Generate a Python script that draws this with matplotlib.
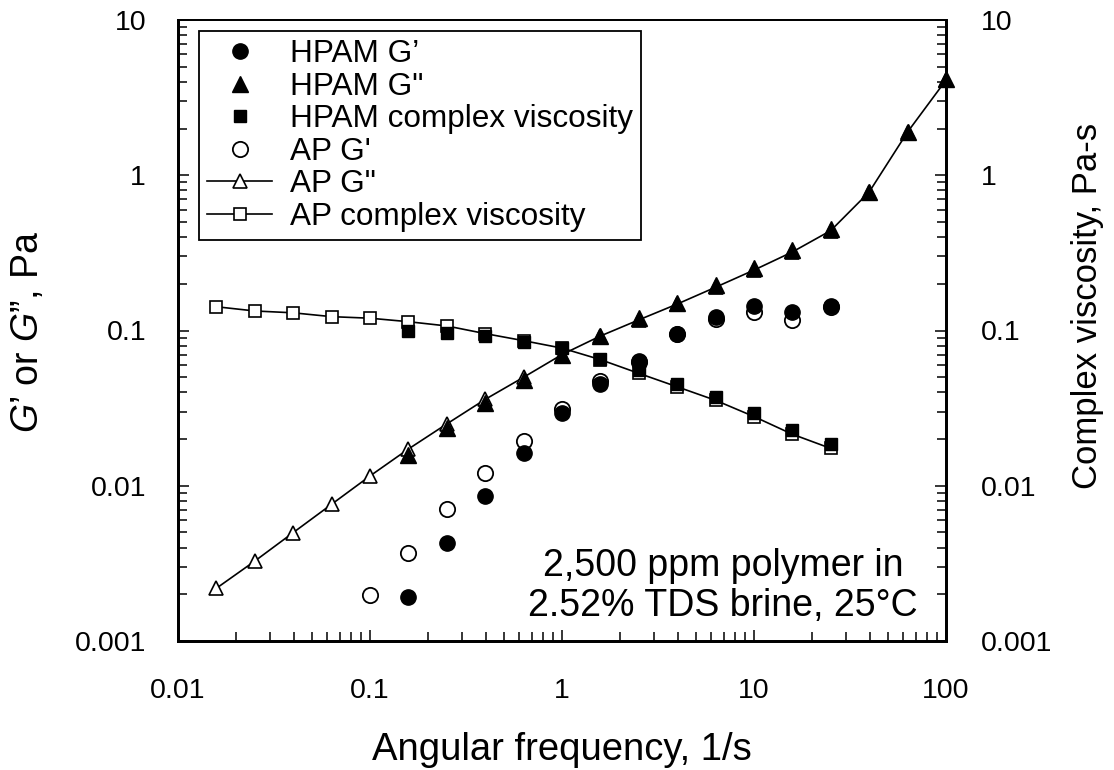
import matplotlib
matplotlib.use("Agg")
import matplotlib.pyplot as plt
from matplotlib.ticker import LogLocator, NullFormatter, FixedLocator, FixedFormatter

plt.rcParams['font.family'] = ['Liberation Sans', 'DejaVu Sans']
plt.rcParams['mathtext.fontset'] = 'custom'
plt.rcParams['mathtext.rm'] = 'Liberation Sans'
plt.rcParams['mathtext.it'] = 'Liberation Sans:italic'

# ---- data ----
freq_full = [0.0158, 0.0251, 0.0398, 0.0631, 0.1, 0.158, 0.251, 0.398, 0.631, 1.0,
             1.58, 2.51, 3.98, 6.31, 10.0, 15.8, 25.1, 39.8, 63.1, 100.0]
freq_visc_ap = [0.0158, 0.0251, 0.0398, 0.0631, 0.1, 0.158, 0.251, 0.398, 0.631, 1.0,
                1.58, 2.51, 3.98, 6.31, 10.0, 15.8, 25.1]
freq_hpam = [0.158, 0.251, 0.398, 0.631, 1.0, 1.58, 2.51, 3.98, 6.31, 10.0, 15.8, 25.1]
freq_hpam_g2 = [0.158, 0.251, 0.398, 0.631, 1.0, 1.58, 2.51, 3.98, 6.31, 10.0, 15.8,
                25.1, 39.8, 63.1, 100.0]
freq_ap_g1 = [0.1, 0.158, 0.251, 0.398, 0.631, 1.0, 1.58, 2.51, 3.98, 6.31, 10.0, 15.8, 25.1]

hpam_g1 = [0.00191, 0.00426, 0.0086, 0.0163, 0.0294, 0.0452, 0.064, 0.0944, 0.123,
           0.1435, 0.132, 0.1435]
hpam_g2 = [0.0158, 0.0237, 0.0343, 0.048, 0.0695, 0.0921, 0.1205, 0.151, 0.195,
           0.2515, 0.330, 0.448, 0.783, 1.91, 4.15]
hpam_visc = [0.0997, 0.0968, 0.0927, 0.0848, 0.0767, 0.0652, 0.0557, 0.0452, 0.0372,
             0.0293, 0.0229, 0.0186]

ap_g1 = [0.00198, 0.00367, 0.00705, 0.0121, 0.0195, 0.031, 0.047, 0.063, 0.095,
         0.119, 0.132, 0.117, 0.142]
ap_g2 = [0.00218, 0.00327, 0.00499, 0.0076, 0.01156, 0.0172, 0.025, 0.036, 0.050,
         0.070, 0.092, 0.117, 0.148, 0.19, 0.245, 0.32, 0.44, 0.78, 1.9, 4.1]
ap_visc = [0.1423, 0.1336, 0.130, 0.1228, 0.120, 0.114, 0.107, 0.0955, 0.086, 0.077,
           0.065, 0.053, 0.0434, 0.0355, 0.0279, 0.0215, 0.0174]

decade_ticks = [0.001, 0.01, 0.1, 1, 10]
decade_labels = ['0.001', '0.01', '0.1', '1', '10']
x_ticks = [0.01, 0.1, 1, 10, 100]
x_labels = ['0.01', '0.1', '1', '10', '100']

fig = plt.figure(figsize=(11.14, 7.70), dpi=100)
ax = fig.add_axes([178/1114, 1-641/770, 768/1114, 621/770])
ax2 = ax.twinx()

for a in (ax, ax2):
    a.set_xscale('log')
    a.set_yscale('log')
    a.set_xlim(0.01, 100)
    a.set_ylim(0.001, 10)

lw = 1.2
# AP series (drawn beneath)
l_ap_g1, = ax.plot(freq_ap_g1, ap_g1, linestyle='none', marker='o', ms=11,
                   mfc='white', mec='black', mew=1.3, zorder=2)
l_ap_g2, = ax.plot(freq_full, ap_g2, linestyle='-', color='black', lw=lw, marker='^',
                   ms=10, mfc='white', mec='black', mew=1.2, zorder=2, clip_on=False)
l_ap_v, = ax2.plot(freq_visc_ap, ap_visc, linestyle='-', color='black', lw=lw, marker='s',
                   ms=8, mfc='white', mec='black', mew=1.2, zorder=2)
# HPAM series (drawn on top)
l_h_g1, = ax.plot(freq_hpam, hpam_g1, linestyle='none', marker='o', ms=11,
                  mfc='black', mec='black', zorder=3)
l_h_g2, = ax.plot(freq_hpam_g2, hpam_g2, linestyle='none', marker='^', ms=12,
                  mfc='black', mec='black', zorder=3, clip_on=False)
l_h_v, = ax2.plot(freq_hpam, hpam_visc, linestyle='none', marker='s', ms=8.5,
                  mfc='black', mec='black', zorder=3)

tick_fs = 20.5
for a in (ax, ax2):
    a.yaxis.set_major_locator(FixedLocator(decade_ticks))
    a.yaxis.set_major_formatter(FixedFormatter(decade_labels))
    a.yaxis.set_minor_locator(LogLocator(base=10, subs=range(2, 10), numticks=20))
    a.yaxis.set_minor_formatter(NullFormatter())
ax.xaxis.set_major_locator(FixedLocator(x_ticks))
ax.xaxis.set_major_formatter(FixedFormatter(x_labels))
ax.xaxis.set_minor_locator(LogLocator(base=10, subs=range(2, 10), numticks=20))
ax.xaxis.set_minor_formatter(NullFormatter())

ax.tick_params(axis='x', which='both', direction='in', top=False, bottom=True,
               labelsize=tick_fs, pad=27)
ax.tick_params(axis='y', which='both', direction='in', left=True, right=False,
               labelsize=tick_fs, pad=23)
ax2.tick_params(axis='y', which='both', direction='in', left=False, right=True,
                labelsize=tick_fs, pad=25)
for a in (ax, ax2):
    a.tick_params(which='major', length=8, width=1.1)
    a.tick_params(which='minor', length=6.5, width=1.1)

for a in (ax, ax2):
    for s in ('left', 'right', 'bottom'):
        a.spines[s].set_linewidth(2.0)
    a.spines['top'].set_linewidth(1.3)

ax.set_xlabel('Angular frequency, 1/s', fontsize=27.5)
ax.xaxis.set_label_coords(0.5, -0.1465)
ax.set_ylabel('$\\mathit{G\u2019}$ or $\\mathit{G\u201d}$, Pa', fontsize=27)
ax.yaxis.set_label_coords(-0.195, 0.497)
ax.yaxis.label.set_va('center')
ax2.set_ylabel('Complex viscosity, Pa-s', fontsize=25)
ax2.yaxis.set_label_coords(1.1836, 0.539)
ax2.yaxis.label.set_va('center')

ax.text(0.7096, 0.0886, '2,500 ppm polymer in\n2.52% TDS brine, 25\u00b0C', transform=ax.transAxes,
        ha='center', va='center', multialignment='center', fontsize=27, linespacing=1.17)

handles = [l_h_g1, l_h_g2, l_h_v, l_ap_g1, l_ap_g2, l_ap_v]
labels = ['HPAM G\u2019', 'HPAM G"', 'HPAM complex viscosity', "AP G'", 'AP G"',
          'AP complex viscosity']
leg = ax2.legend(handles, labels, loc='upper left', bbox_to_anchor=(0.0273, 0.9823),
                 borderaxespad=0, fontsize=22.7, frameon=True, fancybox=False,
                 edgecolor='black', framealpha=1, labelspacing=0.08, handlelength=2.06,
                 handletextpad=0.57, borderpad=0.26)
leg.get_frame().set_linewidth(1.3)
leg.set_zorder(10)

fig.savefig('out.png', dpi=100)
